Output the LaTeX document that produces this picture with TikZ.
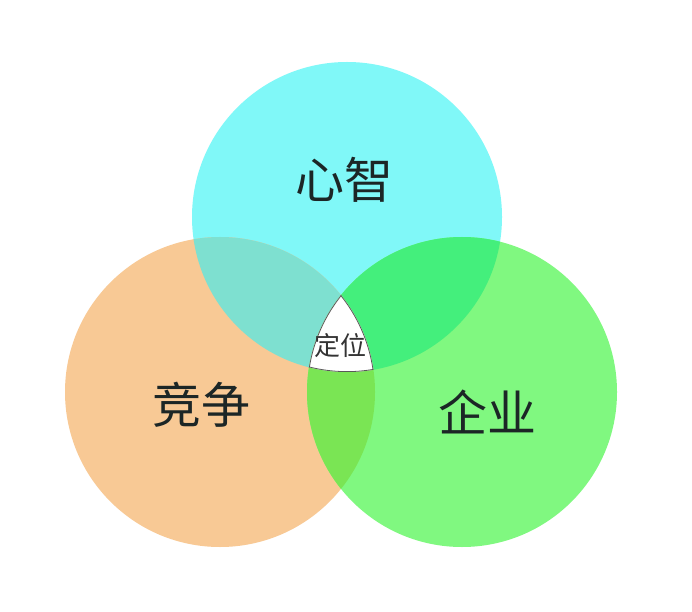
\documentclass[tikz,border=0pt]{standalone}
\usepackage{fontspec}
\newfontfamily\cjk{Noto Sans CJK SC}
\definecolor{mindfill}{HTML}{80F8F8}
\definecolor{compfill}{HTML}{F8C995}
\definecolor{firmfill}{HTML}{80F880}
\definecolor{mindcomp}{HTML}{7EE0D0}
\definecolor{mindfirm}{HTML}{44EF7C}
\definecolor{compfirm}{HTML}{7AE554}
\definecolor{ink}{HTML}{1C2626}
\tikzset{
    circtext/.style = {font=\cjk\fontsize{49}{49}\selectfont,
                    text=ink,
                    inner sep=0pt},
    coretext/.style = {font=\cjk\fontsize{26}{26}\selectfont,
                    text=black!80,
                    inner sep=0pt},
    rim/.style =    {draw=black!65,
                    line width=1.6pt}
}
\def\mindcirc{(347,394) circle (155pt)}
\def\compcirc{(220,219) circle (155pt)}
\def\firmcirc{(462,219) circle (155pt)}

\begin{document}
\begin{tikzpicture}[x=1pt,y=1pt]
        \useasboundingbox (0,0) rectangle (692,611);
        \fill[white] (0,0) rectangle (692,611);

        % the three circles
        \fill[mindfill] \mindcirc;
        \fill[compfill] \compcirc;
        \fill[firmfill] \firmcirc;

        % the overlaps
        \begin{scope}
            \clip \mindcirc;
            \fill[mindcomp] \compcirc;
            \fill[mindfirm] \firmcirc;
        \end{scope}
        \begin{scope}
            \clip \compcirc;
            \fill[compfirm] \firmcirc;
        \end{scope}
        \begin{scope}
            \clip \mindcirc;
            \clip \compcirc;
            \clip \firmcirc;
            \fill[white] (0,0) rectangle (692,611);
            \draw[rim] \mindcirc;
            \draw[rim] \compcirc;
            \draw[rim] \firmcirc;
        \end{scope}

        \node[circtext]     (mind) at (344,431)     {心智};
        \node[circtext]     (comp) at (201,206)     {竞争};
        \node[circtext]     (firm) at (487,199)     {企业};
        \node[coretext]     (core) at (340,265)     {定位};
\end{tikzpicture}
\end{document}
